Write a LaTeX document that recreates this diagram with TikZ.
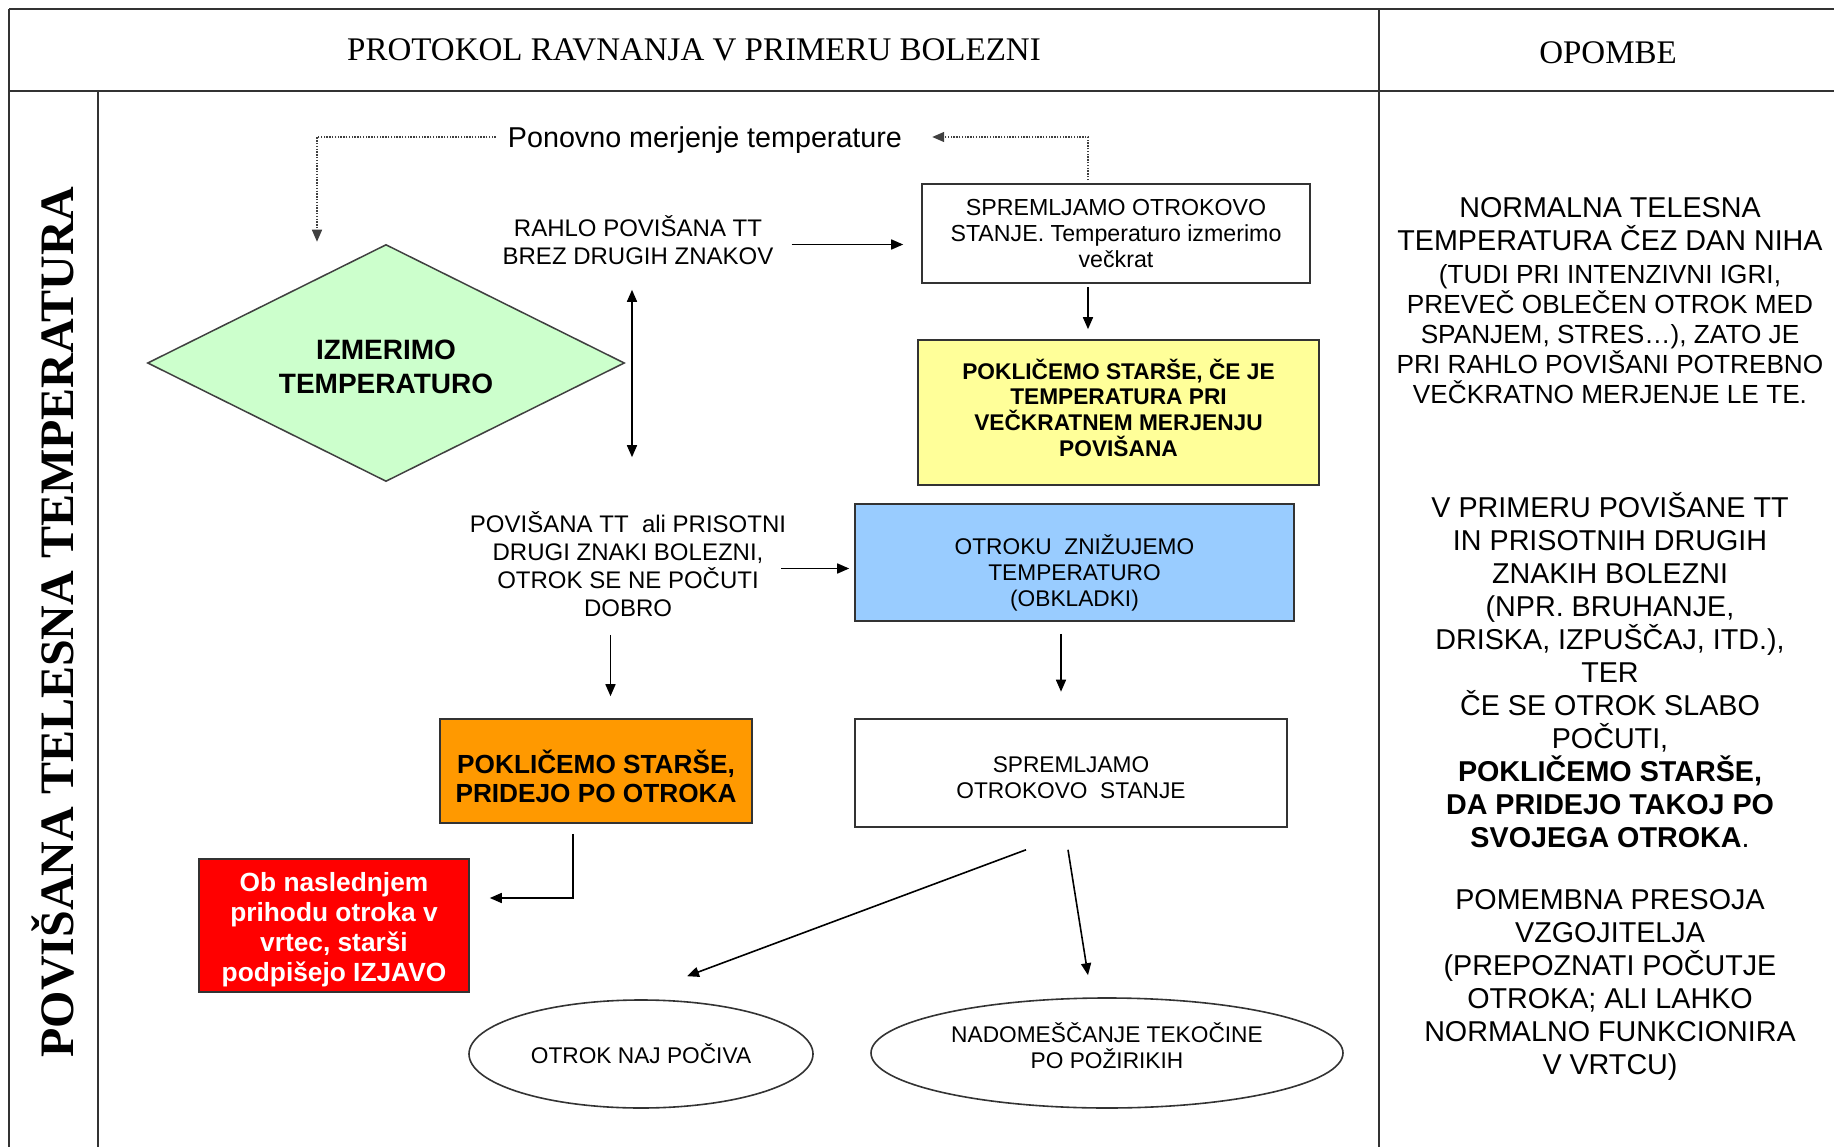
\documentclass[tikz,border=0pt]{standalone}
\usepackage{fontspec}
\setmainfont{Liberation Serif}
\setsansfont{Liberation Sans}
\usetikzlibrary{arrows.meta,shapes.geometric}

\definecolor{gridline}{HTML}{333333}
\definecolor{mint}{HTML}{CCFFCC}
\definecolor{lemon}{HTML}{FFFF99}
\definecolor{sky}{HTML}{99CCFF}
\definecolor{amber}{HTML}{FF9900}
\definecolor{alarm}{HTML}{FF0000}

\newcommand{\fsz}[2]{\fontsize{#1}{#2}\selectfont}
% invisible struts that push a block of lines down (\lift) or up (\sink)
\newcommand{\lift}[1]{\rule{0pt}{#1}}
\newcommand{\sink}[1]{\rule[-#1]{0pt}{#1}}

\tikzset{
  grid/.style={draw=gridline, line width=2pt},
  lbl/.style={font=\sffamily\fsz{24}{28}, align=center, inner sep=0pt},
  flowbox/.style={draw=black!80, line width=1.6pt, rectangle, inner sep=0pt,
    align=center, font=\sffamily\fsz{22.7}{26}},
  oval/.style={draw=black!80, line width=1.6pt, ellipse, inner sep=0pt,
    align=center, font=\sffamily\fsz{22.7}{26}},
  tip/.style={-{Triangle[length=12pt,width=10pt]}},
  arr/.style={line width=1.6pt, tip},
  dblarr/.style={line width=1.6pt, {Triangle[length=12pt,width=10pt]}-{Triangle[length=12pt,width=10pt]}},
  dots/.style={line width=1.4pt, draw=black!75, dash pattern=on 1.4pt off 1.4pt},
  note/.style={font=\sffamily\fsz{28.7}{33}, align=center, inner sep=0pt},
}

\begin{document}
\begin{tikzpicture}[x=1pt,y=-1pt]
\useasboundingbox (0,0) rectangle (1834,1147);
\fill[white] (0,0) rectangle (1834,1147);

% table frame
\draw[grid] (9,9.5) -- (1834,9.5);
\draw[grid, line width=2.6pt] (9,91) -- (1834,91);
\draw[grid] (9,9.5) -- (9,1147);
\draw[grid] (98,91) -- (98,1147);
\draw[grid] (1379,9.5) -- (1379,1147);

% headings
\node[font=\rmfamily\fsz{33}{36}, inner sep=0pt] (title) at (694,50) {PROTOKOL RAVNANJA V PRIMERU BOLEZNI};
\node[font=\rmfamily\fsz{33}{36}, inner sep=0pt] (remarks) at (1608,53) {OPOMBE};
\node[font=\rmfamily\bfseries\fsz{48}{52}, rotate=90, inner sep=0pt] (side) at (53,622) {POVIŠANA TELESNA TEMPERATURA};

% flowchart nodes
\node[diamond, shape aspect=2, draw=black!75, line width=1.5pt, fill=mint, minimum width=477, minimum height=237,
      inner sep=0pt, font=\sffamily\bfseries\fsz{28}{34}, align=center] (measure) at (386,363) {\lift{27pt}IZMERIMO\\TEMPERATURO};
\node[lbl, font=\sffamily\fsz{28.7}{33}] (again) at (705,140) {Ponovno merjenje temperature};
\node[lbl] (mild) at (638,240) {RAHLO POVIŠANA TT\\BREZ DRUGIH ZNAKOV};
\node[flowbox, font=\sffamily\fsz{23.2}{26}, minimum width=388, minimum height=99] (watch1) at (1116,233.5)
  {SPREMLJAMO OTROKOVO\\STANJE. Temperaturo izmerimo\\večkrat};
\node[flowbox, fill=lemon, minimum width=401, minimum height=145, font=\sffamily\bfseries\fsz{22.7}{25.7}] (callif) at (1118.5,412.5)
  {POKLIČEMO STARŠE, ČE JE\\TEMPERATURA PRI\\VEČKRATNEM MERJENJU\\POVIŠANA\sink{10pt}};
\node[lbl] (high) at (628,564) {POVIŠANA TT\ \ ali PRISOTNI\\DRUGI ZNAKI BOLEZNI,\\OTROK SE NE POČUTI\\DOBRO};
\node[flowbox, fill=sky, minimum width=439, minimum height=117] (cool) at (1074.5,562.5)
  {\lift{40pt}OTROKU\ \ ZNIŽUJEMO\\TEMPERATURO\\(OBKLADKI)};
\node[flowbox, fill=amber, minimum width=312, minimum height=104, font=\sffamily\bfseries\fsz{26.2}{29}] (callnow) at (596,771)
  {\lift{34pt}POKLIČEMO STARŠE,\\PRIDEJO PO OTROKA};
\node[flowbox, minimum width=432, minimum height=108] (watch2) at (1071,773) {\lift{24.5pt}SPREMLJAMO\\OTROKOVO\ \ STANJE};
\node[flowbox, fill=alarm, text=white, minimum width=270, minimum height=133, font=\sffamily\bfseries\fsz{26.3}{30}] (sign) at (334,925.5)
  {\lift{28pt}Ob naslednjem\\prihodu otroka v\\vrtec, starši\\podpišejo IZJAVO};
\node[oval, minimum width=344, minimum height=108] (rest) at (641,1054) {OTROK NAJ POČIVA};
\node[oval, minimum width=472, minimum height=110] (fluids) at (1107,1053) {NADOMEŠČANJE TEKOČINE\\PO POŽIRIKIH\sink{14pt}};

% repeated measurement loop
\draw[dots, tip] ([xshift=-28pt,yshift=3pt]watch1.north) |- ([xshift=30pt,yshift=3pt]again.east);
\draw[dots, tip] ([xshift=-12pt,yshift=3pt]again.west) -| ([xshift=-69pt,yshift=2pt]measure.north);

% connectors
\draw[arr] ([xshift=18pt,yshift=-4.5pt]mild.east) -- ([xshift=-18pt,yshift=-11pt]watch1.west);
\draw[dblarr] ([xshift=-6pt,yshift=-25pt]mild.south) -- ([xshift=4pt,yshift=54pt]high.north);
\draw[arr] ([xshift=-28pt,yshift=-3.5pt]watch1.south) -- ([xshift=-30.5pt,yshift=10pt]callif.north);
\draw[arr] ([xshift=-5pt,yshift=-4.5pt]high.east) -- ([xshift=-5pt,yshift=-6pt]cool.west);
\draw[arr] ([xshift=-17.5pt,yshift=-18pt]high.south) -- ([xshift=14.5pt,yshift=22pt]callnow.north);
\draw[arr] ([xshift=-13.5pt,yshift=-12pt]cool.south) -- ([xshift=-10pt,yshift=26.5pt]watch2.north);
\draw[arr] ([xshift=-23pt,yshift=-10pt]callnow.south) |- ([xshift=20pt,yshift=27.5pt]sign.east);
\draw[arr] ([xshift=-45pt,yshift=-22pt]watch2.south) -- ([xshift=46pt,yshift=23pt]rest.north);
\draw[arr] ([xshift=-3pt,yshift=-22pt]watch2.south) -- ([xshift=-19pt,yshift=22pt]fluids.north);

% remarks column
\node[note] (normal) at (1610,224.5) {NORMALNA TELESNA\\TEMPERATURA ČEZ DAN NIHA};
\node[note, font=\sffamily\fsz{26.2}{30}] (normaldetail) at (1610,334)
  {(TUDI PRI INTENZIVNI IGRI,\\PREVEČ OBLEČEN OTROK MED\\SPANJEM, STRES…), ZATO JE\\PRI RAHLO POVIŠANI POTREBNO\\VEČKRATNO MERJENJE LE TE.};
\node[note] (fever) at (1610,670)
  {V PRIMERU POVIŠANE TT\\IN PRISOTNIH DRUGIH\\ZNAKIH BOLEZNI\\ (NPR. BRUHANJE,\\DRISKA, IZPUŠČAJ, ITD.),\\TER\\ČE SE OTROK SLABO\\POČUTI,\\\textbf{POKLIČEMO STARŠE,}\\\textbf{DA PRIDEJO TAKOJ PO}\\\textbf{SVOJEGA OTROKA}.};
\node[note] (judge) at (1610,984.5)
  {POMEMBNA PRESOJA\\VZGOJITELJA\\(PREPOZNATI POČUTJE\\OTROKA; ALI LAHKO\\NORMALNO FUNKCIONIRA\\V VRTCU)};
\end{tikzpicture}
\end{document}
